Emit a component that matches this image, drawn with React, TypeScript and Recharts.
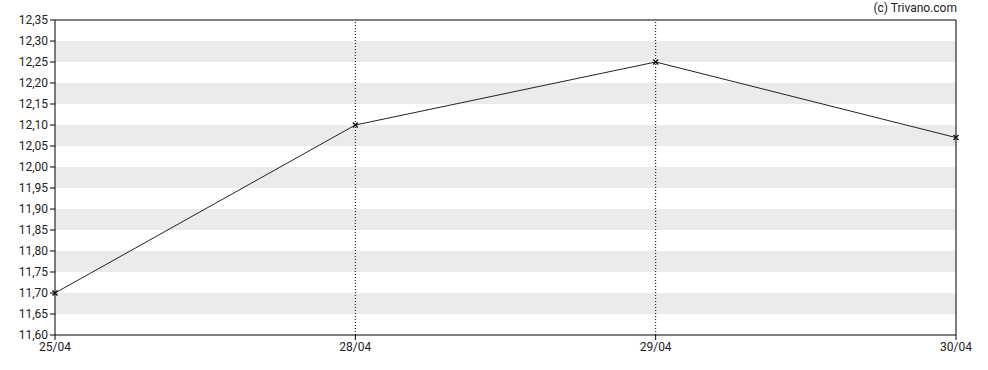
import {
  LineChart, Line, XAxis, YAxis, ReferenceArea, ReferenceLine,
} from "recharts";

const dates = ["25/04", "28/04", "29/04", "30/04"];
const prices = [11.7, 12.1, 12.25, 12.07];
const yTicks = [
  11.6, 11.65, 11.7, 11.75, 11.8, 11.85, 11.9, 11.95, 12.0,
  12.05, 12.1, 12.15, 12.2, 12.25, 12.3, 12.35,
];
const gridDates = ["28/04", "29/04"];

const data = dates.map((d, i) => ({ date: d, price: prices[i] }));

// shaded every other 0.05 interval, starting at 11.65
const bands = yTicks
  .slice(0, -1)
  .map((t, i) => ({ y1: t, y2: yTicks[i + 1] }))
  .filter((_, i) => i % 2 === 1);

const fmt = (v: number) => v.toFixed(2).replace(".", ",");

const Cross = ({ cx, cy }: any) => {
  if (cx == null || cy == null) return null;
  const s = 2.5;
  return (
    <g stroke="#111" strokeWidth={1.4}>
      <line x1={cx - s} y1={cy - s} x2={cx + s} y2={cy + s} />
      <line x1={cx - s} y1={cy + s} x2={cx + s} y2={cy - s} />
    </g>
  );
};

const tickStyle = { fill: "#222", fontSize: 12, fontFamily: "Roboto" };

export default function App() {
  return (
    <div style={{ position: "absolute", left: 0, top: 0, width: 988, height: 370 }}>
      <div
        style={{
          position: "absolute", right: 31, top: 1, fontFamily: "Roboto",
          fontSize: 12, color: "#222",
        }}
      >
        (c) Trivano.com
      </div>
      <LineChart
        width={988}
        height={370}
        data={data}
        margin={{ top: 20, right: 32, bottom: 0, left: 0 }}
      >
        {bands.map((b) => (
          <ReferenceArea
            key={b.y1}
            y1={b.y1}
            y2={b.y2}
            fill="#ebebeb"
            fillOpacity={1}
            stroke="none"
          />
        ))}
        {gridDates.map((d) => (
          <ReferenceLine key={d} x={d} stroke="#000" strokeDasharray="1 2" />
        ))}
        <ReferenceLine y={12.35} stroke="#000" />
        <ReferenceLine x="30/04" stroke="#000" />
        <XAxis
          dataKey="date"
          height={35}
          tick={tickStyle}
          tickSize={5}
          axisLine={{ stroke: "#000" }}
          tickLine={{ stroke: "#000" }}
          interval={0}
        />
        <YAxis
          width={55}
          domain={[11.6, 12.35]}
          ticks={yTicks}
          tickFormatter={fmt}
          tick={tickStyle}
          tickSize={5}
          axisLine={{ stroke: "#000" }}
          tickLine={{ stroke: "#000" }}
          interval={0}
        />
        <Line
          type="linear"
          dataKey="price"
          stroke="#222"
          strokeWidth={1}
          dot={<Cross />}
          activeDot={false}
          isAnimationActive={false}
        />
      </LineChart>
    </div>
  );
}
